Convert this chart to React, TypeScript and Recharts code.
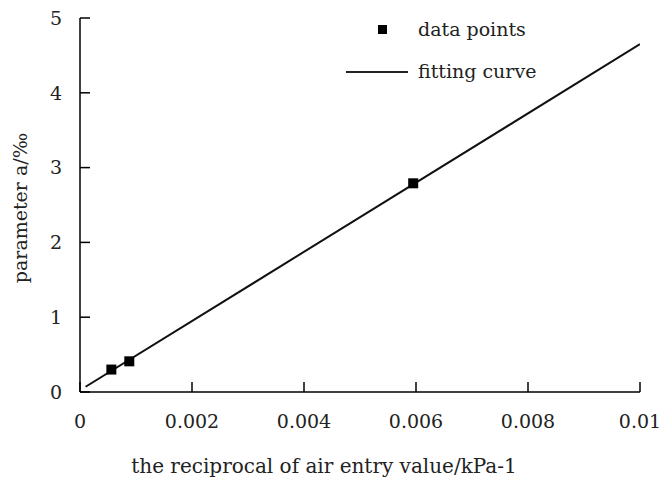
import React from "react";
import { ComposedChart, Line, Scatter, XAxis, YAxis } from "recharts";

// values
const pointX = [0.00056, 0.00088, 0.00595];
const pointY = [0.3, 0.41, 2.79];
const fitX = [0.0001, 0.01];
const fitY = [0.07, 4.65];
const xTicks = [0, 0.002, 0.004, 0.006, 0.008, 0.01];
const yTicks = [0, 1, 2, 3, 4, 5];

const points = pointX.map((x, i) => ({ x, y: pointY[i] }));
const fit = fitX.map((x, i) => ({ x, y: fitY[i] }));

// the chart fills the whole window, so drop the default body margin
document.body.style.margin = "0";

const FONT = '"DejaVu Serif", "Liberation Serif", serif';
const FS = 19;

const Square = (props: any) => {
  const { cx, cy } = props;
  return <rect x={cx - 5} y={cy - 5} width={10} height={10} fill="#000" />;
};

const fmtX = (v: number) => (v === 0 ? "0" : String(Number(v.toFixed(3))));

const text: React.CSSProperties = {
  position: "absolute",
  whiteSpace: "nowrap",
  fontFamily: FONT,
  fontSize: FS,
  color: "#222",
  lineHeight: 1,
};

export default function App() {
  return (
    <div style={{ position: "relative", width: 662, height: 484 }}>
      <ComposedChart
        width={662}
        height={484}
        margin={{ top: 18, right: 22, left: 0, bottom: 32 }}
      >
        <XAxis
          type="number"
          dataKey="x"
          domain={[0, 0.01]}
          ticks={xTicks}
          tickFormatter={fmtX}
          height={60}
          tickSize={-10}
          tickMargin={33}
          allowDataOverflow
          axisLine={{ stroke: "#000", strokeWidth: 1.5 }}
          tickLine={{ stroke: "#000", strokeWidth: 1.5 }}
          tick={{ fill: "#222", fontSize: FS, fontFamily: FONT }}
        />
        <YAxis
          type="number"
          dataKey="y"
          domain={[0, 5]}
          ticks={yTicks}
          width={80}
          tickSize={-10}
          tickMargin={28}
          axisLine={{ stroke: "#000", strokeWidth: 1.5 }}
          tickLine={{ stroke: "#000", strokeWidth: 1.5 }}
          tick={{ fill: "#222", fontSize: FS, fontFamily: FONT }}
        />
        <Line
          data={fit}
          dataKey="y"
          type="linear"
          stroke="#111"
          strokeWidth={2}
          dot={false}
          isAnimationActive={false}
        />
        <Scatter
          data={points}
          dataKey="y"
          fill="#000"
          shape={<Square />}
          isAnimationActive={false}
        />
      </ComposedChart>

      {/* legend */}
      <div style={{ position: "absolute", left: 378, top: 25, width: 9, height: 9, background: "#000" }} />
      <div style={{ ...text, left: 418, top: 20 }}>data points</div>
      <div style={{ position: "absolute", left: 346, top: 71, width: 62, height: 2, background: "#222" }} />
      <div style={{ ...text, left: 418, top: 62 }}>fitting curve</div>

      {/* axis titles */}
      <div style={{ ...text, fontSize: 20, left: 324, top: 456, transform: "translateX(-50%)" }}>
        the reciprocal of air entry value/kPa-1
      </div>
      <div
        style={{
          ...text,
          left: 20,
          top: 208,
          transform: "translate(-50%, -50%) rotate(-90deg)",
        }}
      >
        parameter a/‰
      </div>
    </div>
  );
}
